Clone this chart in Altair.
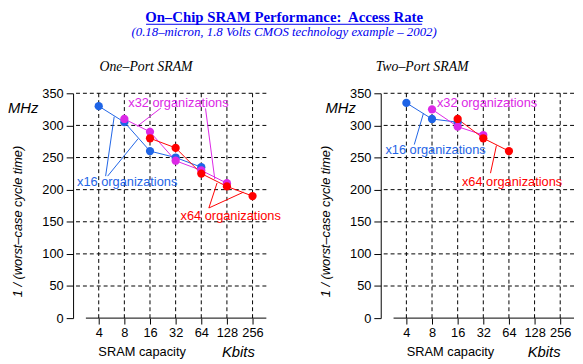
import altair as alt
import pandas as pd

# ---------------- data ----------------
kbits_ticks = [4, 8, 16, 32, 64, 128, 256]
mhz_ticks = [0, 50, 100, 150, 200, 250, 300, 350]
orgs = ["x16", "x32", "x64"]

one_x16_kbits = [4, 8, 16, 32, 64]
one_x16_mhz = [330, 305, 260, 250, 235]
one_x32_kbits = [8, 16, 32, 64, 128]
one_x32_mhz = [310, 290, 245, 230, 210]
one_x64_kbits = [16, 32, 64, 128, 256]
one_x64_mhz = [280, 265, 225, 205, 190]

two_x16_kbits = [4, 8, 16]
two_x16_mhz = [335, 310, 305]
two_x32_kbits = [8, 16, 32]
two_x32_mhz = [325, 298, 285]
two_x64_kbits = [16, 32, 64]
two_x64_mhz = [310, 280, 260]

title_text = "On\u2013Chip SRAM Performance:\u00a0 Access Rate"
subtitle_text = "(0.18\u2013micron, 1.8 Volts CMOS technology example \u2013 2002)"
panel_titles = ["One\u2013Port SRAM", "Two\u2013Port SRAM"]
y_title = "1 / (worst\u2013case cycle time)"
x_title = "SRAM capacity"
x_unit = "Kbits"
y_unit = "MHz"
org_labels = ["x16 organizations", "x32 organizations", "x64 organizations"]

# ---------------- style ----------------
BLUE = "#1e64e6"
MAG = "#dc28e6"
RED = "#ff0000"
TBLUE = "#0000ee"
COLORS = [BLUE, MAG, RED]
SANS = "Liberation Sans"
SERIF = "Liberation Serif"
W, H = 196, 228

x_scale = alt.Scale(type="log", base=2, domain=[2, 371.8], nice=False)
y_scale = alt.Scale(domain=[0, 350], nice=False)
x_axis = alt.Axis(values=kbits_ticks, format="d", grid=False, domain=False, tickSize=6,
                  tickColor="black", labelFont=SANS, labelFontSize=13, labelColor="black",
                  labelPadding=3, title=None, labelFlush=False, labelOverlap=False)
y_axis = alt.Axis(values=mhz_ticks, grid=False, domain=True, domainColor="black", tickSize=7,
                  tickColor="black", labelFont=SANS, labelFontSize=13, labelColor="black",
                  labelPadding=3, title=None)


def series_frame(parts):
    rows = []
    for org, ks, ms in parts:
        for k, m in zip(ks, ms):
            rows.append({"org": org, "kbits": k, "mhz": m})
    return pd.DataFrame(rows)


def label(text, x, y, color="black", size=13, font=SANS, style="normal",
          weight="normal", align="left", baseline="middle", angle=0):
    return alt.Chart(pd.DataFrame({"t": [text]})).mark_text(
        align=align, baseline=baseline, font=font, fontSize=size, fontStyle=style,
        fontWeight=weight, color=color, angle=angle
    ).encode(text="t:N", x=alt.value(x), y=alt.value(y))


def leader(x1, y1, x2, y2, color):
    return alt.Chart(pd.DataFrame({"a": [0]})).mark_rule(color=color, strokeWidth=1).encode(
        x=alt.value(x1), y=alt.value(y1), x2=alt.value(x2), y2=alt.value(y2))


def panel(df, extra_layers):
    hgrid = alt.Chart(pd.DataFrame({"mhz": [v for v in mhz_ticks if v > 0]})).mark_rule(
        color="black", strokeDash=[4, 3], strokeWidth=1
    ).encode(y=alt.Y("mhz:Q", scale=y_scale, axis=y_axis))
    vgrid = alt.Chart(pd.DataFrame({"kbits": kbits_ticks})).mark_rule(
        color="black", strokeDash=[4, 3], strokeWidth=1
    ).encode(x=alt.X("kbits:Q", scale=x_scale, axis=x_axis))
    xline = alt.Chart(pd.DataFrame({"a": [0]})).mark_rule(color="black", strokeWidth=1).encode(
        x=alt.value(13), x2=alt.value(W), y=alt.value(H))
    color = alt.Color("org:N", scale=alt.Scale(domain=orgs, range=COLORS), legend=None)
    base = alt.Chart(df).encode(
        x=alt.X("kbits:Q", scale=x_scale, axis=x_axis),
        y=alt.Y("mhz:Q", scale=y_scale, axis=y_axis),
        color=color,
    )
    lines = base.mark_line(strokeWidth=1)
    pts = base.mark_point(filled=True, size=70, opacity=1)
    return alt.layer(hgrid, vgrid, xline, *extra_layers, lines, pts).properties(width=W, height=H)


one_df = series_frame([("x16", one_x16_kbits, one_x16_mhz),
                       ("x32", one_x32_kbits, one_x32_mhz),
                       ("x64", one_x64_kbits, one_x64_mhz)])
two_df = series_frame([("x16", two_x16_kbits, two_x16_mhz),
                       ("x32", two_x32_kbits, two_x32_mhz),
                       ("x64", two_x64_kbits, two_x64_mhz)])

left_extra = [
    label(title_text, 214, -72, color=TBLUE, size=15, font=SERIF, weight="bold",
          align="center", baseline="alphabetic"),
    leader(74, -70, 354, -70, TBLUE),
    label(subtitle_text, 214, -58, color=TBLUE, size=13, font=SERIF, style="italic",
          align="center", baseline="alphabetic"),
    label(panel_titles[0], 74, -27, size=14, font=SERIF, style="italic", align="center"),
    label(y_unit, -66, 15, size=15, style="italic"),
    label(y_title, -56, 130, size=13, style="italic", align="center", angle=270),
    label(x_title, 70, 262, size=13, align="center"),
    label(x_unit, 151, 262, size=15, style="italic"),
    leader(33, 84, 41.7, 23.7, BLUE),
    leader(35, 84, 66, 46, BLUE),
    leader(89, 15, 65, 33.5, MAG),
    leader(134.3, 15.3, 143.7, 87, MAG),
    leader(137.7, 116.3, 146, 91, RED),
    leader(137.7, 116.3, 172.7, 100.3, RED),
    label(org_labels[0], 4, 90, color=BLUE),
    label(org_labels[1], 56, 10, color=MAG),
    label(org_labels[2], 109, 124, color=RED),
]

right_extra = [
    label(panel_titles[1], 42, -27, size=14, font=SERIF, style="italic", align="center"),
    label(y_unit, -56, 15, size=15, style="italic"),
    label(y_title, -55, 130, size=13, style="italic", align="center", angle=270),
    label(x_title, 70.7, 262, size=13, align="center"),
    label(x_unit, 149, 262, size=15, style="italic"),
    leader(34, 52, 43.3, 20.3, BLUE),
    leader(111.3, 81, 117.3, 53, RED),
    label(org_labels[1], 57, 10, color=MAG),
    label(org_labels[0], 4.7, 58, color=BLUE),
    label(org_labels[2], 82.3, 90.3, color=RED),
]

left = panel(one_df, left_extra)
right = panel(two_df, right_extra)

chart = alt.hconcat(left, right, spacing=116, bounds="flush").configure_view(
    stroke=None
).properties(padding=0)

chart.save("out.html", embed_options={"renderer": "svg", "actions": False})
